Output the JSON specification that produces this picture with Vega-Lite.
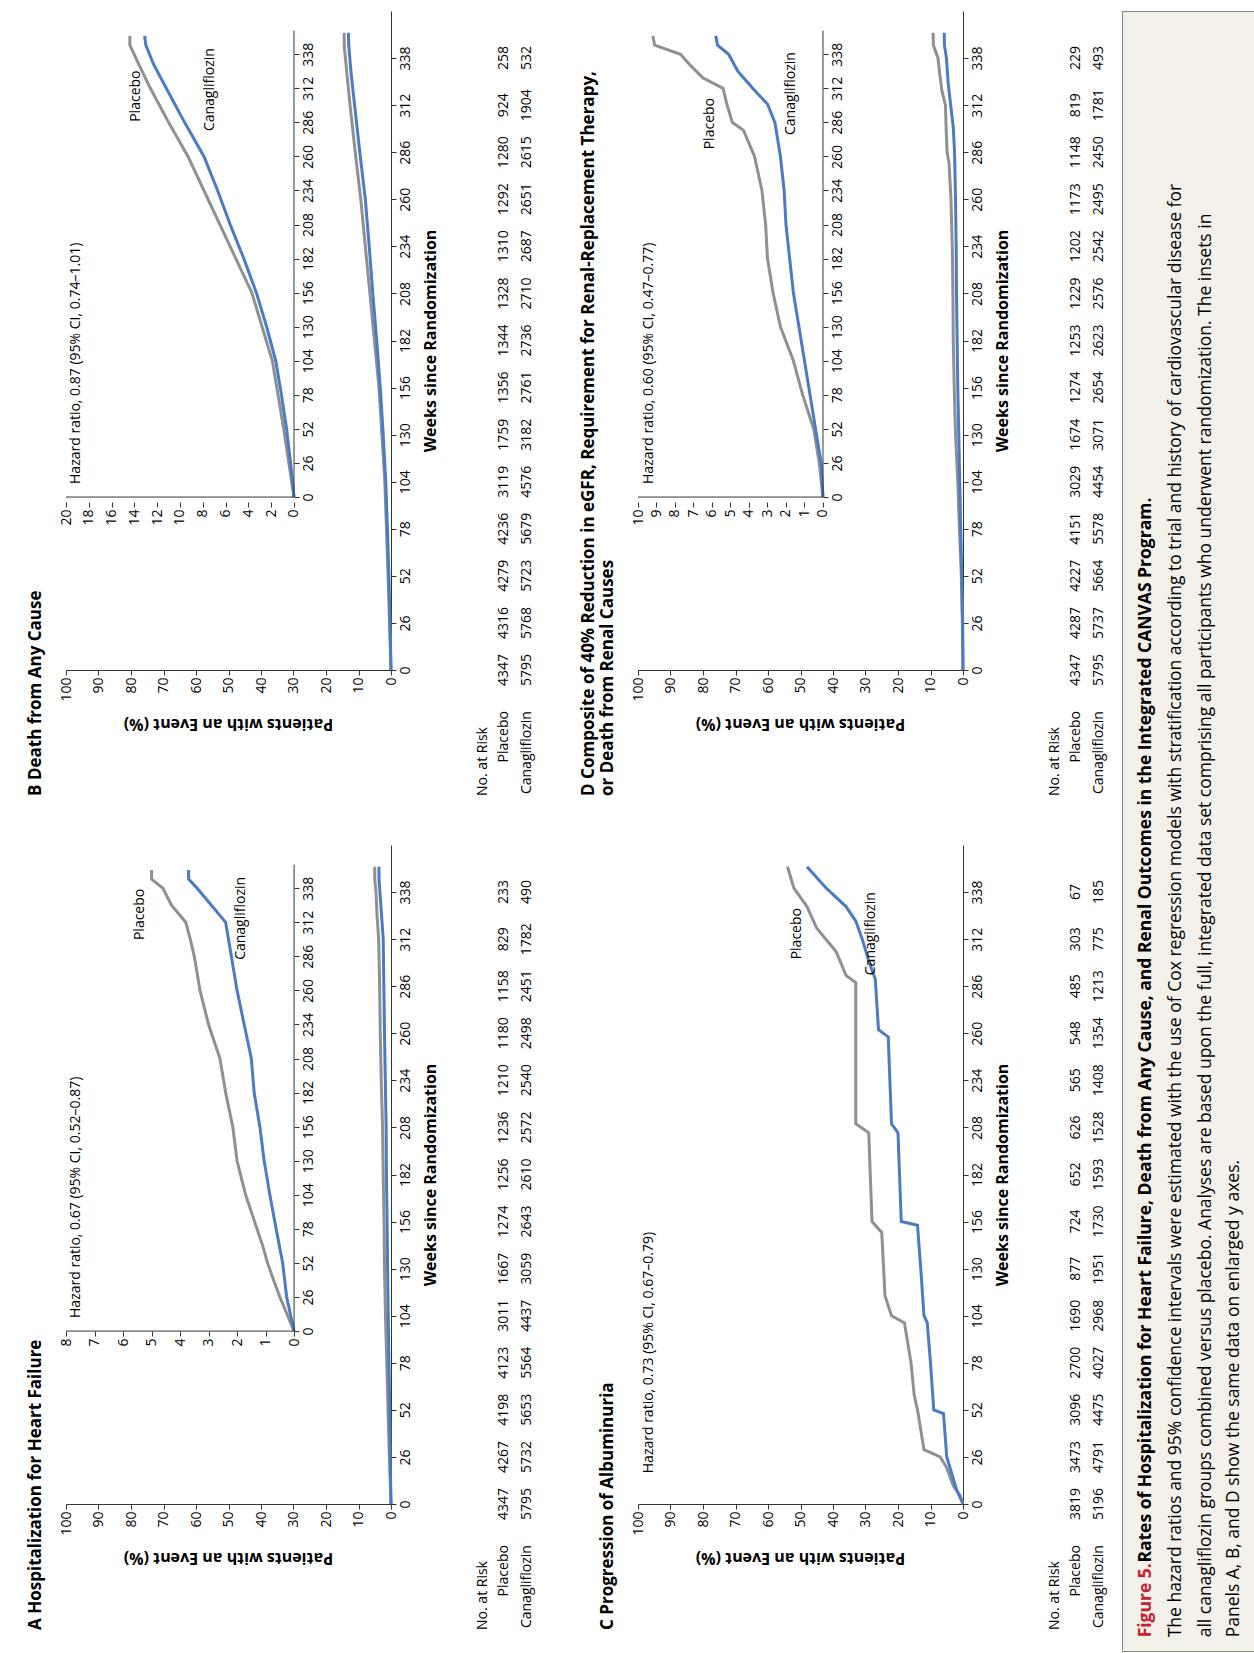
{
  "$schema": "https://vega.github.io/schema/vega-lite/v6.json",
  "padding": {"left": 26, "top": 10, "right": 0, "bottom": 0},
  "config": {
    "font": "Open Sans",
    "view": {"stroke": null},
    "axis": {"labelFontSize": 14, "labelColor": "black", "domainColor": "#333", "tickColor": "#333", "grid": false, "titleColor": "black", "titleFontSize": 16, "titleFontWeight": "bold", "labelFont": "Open Sans", "titleFont": "Open Sans", "labelOverlap": false, "labelFlush": false, "labelBound": false},
    "text": {"font": "Open Sans", "fontSize": 14, "color": "black"},
    "title": {"font": "Open Sans", "fontSize": 17, "fontWeight": "bold", "color": "black"}
  },
  "datasets": {
    "km": [
      {"p":"A","g":"Placebo","w":0,"v":0},{"p":"A","g":"Placebo","w":13,"v":0.25},{"p":"A","g":"Placebo","w":26,"v":0.5},{"p":"A","g":"Placebo","w":39,"v":0.72},{"p":"A","g":"Placebo","w":52,"v":0.93},{"p":"A","g":"Placebo","w":65,"v":1.1},{"p":"A","g":"Placebo","w":78,"v":1.3},{"p":"A","g":"Placebo","w":91,"v":1.5},{"p":"A","g":"Placebo","w":104,"v":1.7},{"p":"A","g":"Placebo","w":117,"v":1.85},{"p":"A","g":"Placebo","w":130,"v":2.0},{"p":"A","g":"Placebo","w":156,"v":2.15},{"p":"A","g":"Placebo","w":182,"v":2.4},{"p":"A","g":"Placebo","w":208,"v":2.6},{"p":"A","g":"Placebo","w":234,"v":3.0},{"p":"A","g":"Placebo","w":260,"v":3.3},{"p":"A","g":"Placebo","w":286,"v":3.5},{"p":"A","g":"Placebo","w":300,"v":3.65},{"p":"A","g":"Placebo","w":312,"v":3.8},{"p":"A","g":"Placebo","w":325,"v":4.3},{"p":"A","g":"Placebo","w":338,"v":4.6},{"p":"A","g":"Placebo","w":345,"v":5.0},{"p":"A","g":"Placebo","w":352,"v":5.0},
      {"p":"A","g":"Canagliflozin","w":0,"v":0},{"p":"A","g":"Canagliflozin","w":26,"v":0.26},{"p":"A","g":"Canagliflozin","w":52,"v":0.4},{"p":"A","g":"Canagliflozin","w":78,"v":0.63},{"p":"A","g":"Canagliflozin","w":104,"v":0.85},{"p":"A","g":"Canagliflozin","w":130,"v":1.05},{"p":"A","g":"Canagliflozin","w":156,"v":1.2},{"p":"A","g":"Canagliflozin","w":182,"v":1.4},{"p":"A","g":"Canagliflozin","w":208,"v":1.5},{"p":"A","g":"Canagliflozin","w":234,"v":1.75},{"p":"A","g":"Canagliflozin","w":260,"v":2.0},{"p":"A","g":"Canagliflozin","w":286,"v":2.2},{"p":"A","g":"Canagliflozin","w":312,"v":2.4},{"p":"A","g":"Canagliflozin","w":325,"v":2.9},{"p":"A","g":"Canagliflozin","w":338,"v":3.4},{"p":"A","g":"Canagliflozin","w":345,"v":3.7},{"p":"A","g":"Canagliflozin","w":352,"v":3.7},
      {"p":"B","g":"Placebo","w":0,"v":0},{"p":"B","g":"Placebo","w":26,"v":0.45},{"p":"B","g":"Placebo","w":52,"v":0.9},{"p":"B","g":"Placebo","w":78,"v":1.4},{"p":"B","g":"Placebo","w":104,"v":1.9},{"p":"B","g":"Placebo","w":130,"v":2.8},{"p":"B","g":"Placebo","w":156,"v":3.7},{"p":"B","g":"Placebo","w":182,"v":5.1},{"p":"B","g":"Placebo","w":208,"v":6.5},{"p":"B","g":"Placebo","w":234,"v":7.9},{"p":"B","g":"Placebo","w":260,"v":9.3},{"p":"B","g":"Placebo","w":286,"v":11.0},{"p":"B","g":"Placebo","w":312,"v":12.6},{"p":"B","g":"Placebo","w":330,"v":13.6},{"p":"B","g":"Placebo","w":345,"v":14.4},{"p":"B","g":"Placebo","w":352,"v":14.4},
      {"p":"B","g":"Canagliflozin","w":0,"v":0},{"p":"B","g":"Canagliflozin","w":26,"v":0.3},{"p":"B","g":"Canagliflozin","w":52,"v":0.65},{"p":"B","g":"Canagliflozin","w":78,"v":1.1},{"p":"B","g":"Canagliflozin","w":104,"v":1.6},{"p":"B","g":"Canagliflozin","w":130,"v":2.4},{"p":"B","g":"Canagliflozin","w":156,"v":3.3},{"p":"B","g":"Canagliflozin","w":182,"v":4.4},{"p":"B","g":"Canagliflozin","w":208,"v":5.6},{"p":"B","g":"Canagliflozin","w":234,"v":6.7},{"p":"B","g":"Canagliflozin","w":260,"v":7.9},{"p":"B","g":"Canagliflozin","w":286,"v":9.6},{"p":"B","g":"Canagliflozin","w":312,"v":11.2},{"p":"B","g":"Canagliflozin","w":330,"v":12.3},{"p":"B","g":"Canagliflozin","w":345,"v":13.0},{"p":"B","g":"Canagliflozin","w":352,"v":13.1},
      {"p":"C","g":"Placebo","w":0,"v":0},{"p":"C","g":"Placebo","w":5,"v":1},{"p":"C","g":"Placebo","w":10,"v":3},{"p":"C","g":"Placebo","w":20,"v":5},{"p":"C","g":"Placebo","w":26,"v":7},{"p":"C","g":"Placebo","w":30,"v":12},{"p":"C","g":"Placebo","w":52,"v":14},{"p":"C","g":"Placebo","w":60,"v":15},{"p":"C","g":"Placebo","w":78,"v":16},{"p":"C","g":"Placebo","w":100,"v":18},{"p":"C","g":"Placebo","w":104,"v":22},{"p":"C","g":"Placebo","w":115,"v":24},{"p":"C","g":"Placebo","w":150,"v":25},{"p":"C","g":"Placebo","w":156,"v":28},{"p":"C","g":"Placebo","w":205,"v":29},{"p":"C","g":"Placebo","w":210,"v":33},{"p":"C","g":"Placebo","w":288,"v":33},{"p":"C","g":"Placebo","w":292,"v":36},{"p":"C","g":"Placebo","w":305,"v":39},{"p":"C","g":"Placebo","w":318,"v":45},{"p":"C","g":"Placebo","w":330,"v":48},{"p":"C","g":"Placebo","w":340,"v":52},{"p":"C","g":"Placebo","w":352,"v":54},
      {"p":"C","g":"Canagliflozin","w":0,"v":0},{"p":"C","g":"Canagliflozin","w":8,"v":2},{"p":"C","g":"Canagliflozin","w":20,"v":4},{"p":"C","g":"Canagliflozin","w":26,"v":5},{"p":"C","g":"Canagliflozin","w":50,"v":6},{"p":"C","g":"Canagliflozin","w":52,"v":9},{"p":"C","g":"Canagliflozin","w":78,"v":10},{"p":"C","g":"Canagliflozin","w":100,"v":11},{"p":"C","g":"Canagliflozin","w":104,"v":12},{"p":"C","g":"Canagliflozin","w":130,"v":13},{"p":"C","g":"Canagliflozin","w":154,"v":14},{"p":"C","g":"Canagliflozin","w":156,"v":19},{"p":"C","g":"Canagliflozin","w":205,"v":20},{"p":"C","g":"Canagliflozin","w":210,"v":22},{"p":"C","g":"Canagliflozin","w":258,"v":23},{"p":"C","g":"Canagliflozin","w":262,"v":26},{"p":"C","g":"Canagliflozin","w":290,"v":27},{"p":"C","g":"Canagliflozin","w":300,"v":29},{"p":"C","g":"Canagliflozin","w":312,"v":31},{"p":"C","g":"Canagliflozin","w":322,"v":33},{"p":"C","g":"Canagliflozin","w":330,"v":36},{"p":"C","g":"Canagliflozin","w":340,"v":42},{"p":"C","g":"Canagliflozin","w":352,"v":48},
      {"p":"D","g":"Placebo","w":0,"v":0},{"p":"D","g":"Placebo","w":26,"v":0.2},{"p":"D","g":"Placebo","w":52,"v":0.5},{"p":"D","g":"Placebo","w":78,"v":1.1},{"p":"D","g":"Placebo","w":104,"v":1.6},{"p":"D","g":"Placebo","w":130,"v":2.3},{"p":"D","g":"Placebo","w":156,"v":2.7},{"p":"D","g":"Placebo","w":182,"v":3.0},{"p":"D","g":"Placebo","w":208,"v":3.1},{"p":"D","g":"Placebo","w":234,"v":3.3},{"p":"D","g":"Placebo","w":260,"v":3.7},{"p":"D","g":"Placebo","w":280,"v":4.3},{"p":"D","g":"Placebo","w":286,"v":4.9},{"p":"D","g":"Placebo","w":300,"v":5.2},{"p":"D","g":"Placebo","w":312,"v":5.4},{"p":"D","g":"Placebo","w":320,"v":6.5},{"p":"D","g":"Placebo","w":330,"v":7.2},{"p":"D","g":"Placebo","w":338,"v":7.7},{"p":"D","g":"Placebo","w":345,"v":9.1},{"p":"D","g":"Placebo","w":352,"v":9.2},
      {"p":"D","g":"Canagliflozin","w":0,"v":0},{"p":"D","g":"Canagliflozin","w":26,"v":0.1},{"p":"D","g":"Canagliflozin","w":52,"v":0.4},{"p":"D","g":"Canagliflozin","w":78,"v":0.7},{"p":"D","g":"Canagliflozin","w":104,"v":1.0},{"p":"D","g":"Canagliflozin","w":130,"v":1.3},{"p":"D","g":"Canagliflozin","w":156,"v":1.6},{"p":"D","g":"Canagliflozin","w":182,"v":1.8},{"p":"D","g":"Canagliflozin","w":208,"v":2.0},{"p":"D","g":"Canagliflozin","w":234,"v":2.1},{"p":"D","g":"Canagliflozin","w":260,"v":2.3},{"p":"D","g":"Canagliflozin","w":286,"v":2.6},{"p":"D","g":"Canagliflozin","w":300,"v":3.0},{"p":"D","g":"Canagliflozin","w":312,"v":3.8},{"p":"D","g":"Canagliflozin","w":325,"v":4.6},{"p":"D","g":"Canagliflozin","w":338,"v":5.1},{"p":"D","g":"Canagliflozin","w":345,"v":5.7},{"p":"D","g":"Canagliflozin","w":352,"v":5.8}
    ],
    "risk": [
      {"p":"A","g":"Placebo","w":0,"n":4347},{"p":"A","g":"Placebo","w":26,"n":4267},{"p":"A","g":"Placebo","w":52,"n":4198},{"p":"A","g":"Placebo","w":78,"n":4123},{"p":"A","g":"Placebo","w":104,"n":3011},{"p":"A","g":"Placebo","w":130,"n":1667},{"p":"A","g":"Placebo","w":156,"n":1274},{"p":"A","g":"Placebo","w":182,"n":1256},{"p":"A","g":"Placebo","w":208,"n":1236},{"p":"A","g":"Placebo","w":234,"n":1210},{"p":"A","g":"Placebo","w":260,"n":1180},{"p":"A","g":"Placebo","w":286,"n":1158},{"p":"A","g":"Placebo","w":312,"n":829},{"p":"A","g":"Placebo","w":338,"n":233},
      {"p":"A","g":"Canagliflozin","w":0,"n":5795},{"p":"A","g":"Canagliflozin","w":26,"n":5732},{"p":"A","g":"Canagliflozin","w":52,"n":5653},{"p":"A","g":"Canagliflozin","w":78,"n":5564},{"p":"A","g":"Canagliflozin","w":104,"n":4437},{"p":"A","g":"Canagliflozin","w":130,"n":3059},{"p":"A","g":"Canagliflozin","w":156,"n":2643},{"p":"A","g":"Canagliflozin","w":182,"n":2610},{"p":"A","g":"Canagliflozin","w":208,"n":2572},{"p":"A","g":"Canagliflozin","w":234,"n":2540},{"p":"A","g":"Canagliflozin","w":260,"n":2498},{"p":"A","g":"Canagliflozin","w":286,"n":2451},{"p":"A","g":"Canagliflozin","w":312,"n":1782},{"p":"A","g":"Canagliflozin","w":338,"n":490},
      {"p":"B","g":"Placebo","w":0,"n":4347},{"p":"B","g":"Placebo","w":26,"n":4316},{"p":"B","g":"Placebo","w":52,"n":4279},{"p":"B","g":"Placebo","w":78,"n":4236},{"p":"B","g":"Placebo","w":104,"n":3119},{"p":"B","g":"Placebo","w":130,"n":1759},{"p":"B","g":"Placebo","w":156,"n":1356},{"p":"B","g":"Placebo","w":182,"n":1344},{"p":"B","g":"Placebo","w":208,"n":1328},{"p":"B","g":"Placebo","w":234,"n":1310},{"p":"B","g":"Placebo","w":260,"n":1292},{"p":"B","g":"Placebo","w":286,"n":1280},{"p":"B","g":"Placebo","w":312,"n":924},{"p":"B","g":"Placebo","w":338,"n":258},
      {"p":"B","g":"Canagliflozin","w":0,"n":5795},{"p":"B","g":"Canagliflozin","w":26,"n":5768},{"p":"B","g":"Canagliflozin","w":52,"n":5723},{"p":"B","g":"Canagliflozin","w":78,"n":5679},{"p":"B","g":"Canagliflozin","w":104,"n":4576},{"p":"B","g":"Canagliflozin","w":130,"n":3182},{"p":"B","g":"Canagliflozin","w":156,"n":2761},{"p":"B","g":"Canagliflozin","w":182,"n":2736},{"p":"B","g":"Canagliflozin","w":208,"n":2710},{"p":"B","g":"Canagliflozin","w":234,"n":2687},{"p":"B","g":"Canagliflozin","w":260,"n":2651},{"p":"B","g":"Canagliflozin","w":286,"n":2615},{"p":"B","g":"Canagliflozin","w":312,"n":1904},{"p":"B","g":"Canagliflozin","w":338,"n":532},
      {"p":"C","g":"Placebo","w":0,"n":3819},{"p":"C","g":"Placebo","w":26,"n":3473},{"p":"C","g":"Placebo","w":52,"n":3096},{"p":"C","g":"Placebo","w":78,"n":2700},{"p":"C","g":"Placebo","w":104,"n":1690},{"p":"C","g":"Placebo","w":130,"n":877},{"p":"C","g":"Placebo","w":156,"n":724},{"p":"C","g":"Placebo","w":182,"n":652},{"p":"C","g":"Placebo","w":208,"n":626},{"p":"C","g":"Placebo","w":234,"n":565},{"p":"C","g":"Placebo","w":260,"n":548},{"p":"C","g":"Placebo","w":286,"n":485},{"p":"C","g":"Placebo","w":312,"n":303},{"p":"C","g":"Placebo","w":338,"n":67},
      {"p":"C","g":"Canagliflozin","w":0,"n":5196},{"p":"C","g":"Canagliflozin","w":26,"n":4791},{"p":"C","g":"Canagliflozin","w":52,"n":4475},{"p":"C","g":"Canagliflozin","w":78,"n":4027},{"p":"C","g":"Canagliflozin","w":104,"n":2968},{"p":"C","g":"Canagliflozin","w":130,"n":1951},{"p":"C","g":"Canagliflozin","w":156,"n":1730},{"p":"C","g":"Canagliflozin","w":182,"n":1593},{"p":"C","g":"Canagliflozin","w":208,"n":1528},{"p":"C","g":"Canagliflozin","w":234,"n":1408},{"p":"C","g":"Canagliflozin","w":260,"n":1354},{"p":"C","g":"Canagliflozin","w":286,"n":1213},{"p":"C","g":"Canagliflozin","w":312,"n":775},{"p":"C","g":"Canagliflozin","w":338,"n":185},
      {"p":"D","g":"Placebo","w":0,"n":4347},{"p":"D","g":"Placebo","w":26,"n":4287},{"p":"D","g":"Placebo","w":52,"n":4227},{"p":"D","g":"Placebo","w":78,"n":4151},{"p":"D","g":"Placebo","w":104,"n":3029},{"p":"D","g":"Placebo","w":130,"n":1674},{"p":"D","g":"Placebo","w":156,"n":1274},{"p":"D","g":"Placebo","w":182,"n":1253},{"p":"D","g":"Placebo","w":208,"n":1229},{"p":"D","g":"Placebo","w":234,"n":1202},{"p":"D","g":"Placebo","w":260,"n":1173},{"p":"D","g":"Placebo","w":286,"n":1148},{"p":"D","g":"Placebo","w":312,"n":819},{"p":"D","g":"Placebo","w":338,"n":229},
      {"p":"D","g":"Canagliflozin","w":0,"n":5795},{"p":"D","g":"Canagliflozin","w":26,"n":5737},{"p":"D","g":"Canagliflozin","w":52,"n":5664},{"p":"D","g":"Canagliflozin","w":78,"n":5578},{"p":"D","g":"Canagliflozin","w":104,"n":4454},{"p":"D","g":"Canagliflozin","w":130,"n":3071},{"p":"D","g":"Canagliflozin","w":156,"n":2654},{"p":"D","g":"Canagliflozin","w":182,"n":2623},{"p":"D","g":"Canagliflozin","w":208,"n":2576},{"p":"D","g":"Canagliflozin","w":234,"n":2542},{"p":"D","g":"Canagliflozin","w":260,"n":2495},{"p":"D","g":"Canagliflozin","w":286,"n":2450},{"p":"D","g":"Canagliflozin","w":312,"n":1781},{"p":"D","g":"Canagliflozin","w":338,"n":493}
    ]
  },
  "hconcat": [
    {
      "vconcat": [
        {
          "width": 498, "height": 659,
          "title": {"text": "B  Death from Any Cause", "orient": "left", "angle": 270, "anchor": "start", "offset": 14},
          "resolve": {"scale": {"x": "independent", "y": "independent"}},
          "layer": [
            {"layer": [
              {"data": {"name": "km"}, "transform": [{"filter": "datum.p === 'B'"}],
               "mark": {"type": "line", "strokeWidth": 3},
               "encoding": {
                 "x": {"field": "v", "type": "quantitative", "scale": {"domain": [0, 100], "range": [325, 0], "nice": false}, "axis": {"values": [0,10,20,30,40,50,60,70,80,90,100], "labelAngle": 270, "labelAlign": "right", "labelBaseline": "middle", "title": "Patients with an Event (%)", "titleAngle": 180, "titleBaseline": "bottom", "titlePadding": 14, "titleX": 162}},
                 "y": {"field": "w", "type": "quantitative", "scale": {"domain": [0, 364], "nice": false}, "axis": {"orient": "right", "offset": -173, "values": [0,26,52,78,104,130,156,182,208,234,260,286,312,338], "labelAngle": 270, "labelAlign": "center", "labelBaseline": "top", "title": "Weeks since Randomization", "titleAngle": 270, "titleBaseline": "top", "titlePadding": 10}},
                 "order": {"field": "w", "type": "quantitative"},
                 "color": {"field": "g", "type": "nominal", "scale": {"domain": ["Placebo", "Canagliflozin"], "range": ["#8f9092", "#4a7cc4"]}, "legend": null}
               }},
              {"data": {"name": "risk"}, "transform": [{"filter": "datum.p === 'B' && datum.g === 'Placebo'"}], "mark": {"type": "text", "angle": 270},
               "encoding": {"y": {"field": "w", "type": "quantitative"}, "x": {"datum": -34.8, "type": "quantitative"}, "text": {"field": "n"}}},
              {"data": {"name": "risk"}, "transform": [{"filter": "datum.p === 'B' && datum.g === 'Canagliflozin'"}], "mark": {"type": "text", "angle": 270},
               "encoding": {"y": {"field": "w", "type": "quantitative"}, "x": {"datum": -41.8, "type": "quantitative"}, "text": {"field": "n"}}},
              {"data": {"values": [{"t": "No. at Risk", "x": -28.3, "wt": "bold", "y": -31.5}, {"t": "Placebo", "x": -34.8, "wt": "normal", "y": -22.7}, {"t": "Canagliflozin", "x": -41.8, "wt": "normal", "y": -22.7}]},
               "mark": {"type": "text", "angle": 270, "align": "right", "baseline": "middle"},
               "encoding": {"x": {"field": "x", "type": "quantitative"}, "y": {"field": "y", "type": "quantitative"}, "text": {"field": "t"}, "fontWeight": {"field": "wt", "type": "nominal", "scale": null}}}
            ]},
            {"layer": [
              {"data": {"name": "km"}, "transform": [{"filter": "datum.p === 'B'"}],
               "mark": {"type": "line", "strokeWidth": 3},
               "encoding": {
                 "x": {"field": "v", "type": "quantitative", "scale": {"domain": [-8.51, 20], "range": [325, 0], "nice": false, "zero": false}, "axis": {"orient": "bottom", "offset": -168, "values": [0,2,4,6,8,10,12,14,16,18,20], "domain": false, "labelAngle": 270, "labelAlign": "right", "labelBaseline": "middle", "title": null}},
                 "y": {"field": "w", "type": "quantitative", "scale": {"domain": [-132, 371], "nice": false, "zero": false}, "axis": {"orient": "right", "offset": -270, "values": [0,26,52,78,104,130,156,182,208,234,260,286,312,338], "domain": false, "labelAngle": 270, "labelAlign": "center", "labelBaseline": "top", "title": null}},
                 "order": {"field": "w", "type": "quantitative"},
                 "color": {"field": "g", "type": "nominal", "legend": null}
               }},
              {"mark": {"type": "rule", "color": "#333"}, "data": {"values": [{}]}, "encoding": {"x": {"datum": 0, "type": "quantitative"}, "y": {"datum": 0, "type": "quantitative"}, "y2": {"datum": 356}}},
              {"mark": {"type": "rule", "color": "#333"}, "data": {"values": [{}]}, "encoding": {"y": {"datum": 0, "type": "quantitative"}, "x": {"datum": 0, "type": "quantitative"}, "x2": {"datum": 20}}},
              {"data": {"values": [{"t": "Hazard ratio, 0.87 (95% CI, 0.74–1.01)", "x": 19.1, "y": 10}]},
               "mark": {"type": "text", "angle": 270, "baseline": "middle", "align": "left"},
               "encoding": {"x": {"field": "x", "type": "quantitative"}, "y": {"field": "y", "type": "quantitative"}, "text": {"field": "t"}}},
              {"data": {"values": [{"t": "Placebo", "x": 13.9, "y": 306}, {"t": "Canagliflozin", "x": 7.4, "y": 311}]},
               "mark": {"type": "text", "angle": 270, "baseline": "middle", "align": "center"},
               "encoding": {"x": {"field": "x", "type": "quantitative"}, "y": {"field": "y", "type": "quantitative"}, "text": {"field": "t"}}}
            ]}
          ]
        },
        {
          "width": 498, "height": 659,
          "title": {"text": "A  Hospitalization for Heart Failure", "orient": "left", "angle": 270, "anchor": "start", "offset": 14},
          "resolve": {"scale": {"x": "independent", "y": "independent"}},
          "layer": [
            {"layer": [
              {"data": {"name": "km"}, "transform": [{"filter": "datum.p === 'A'"}],
               "mark": {"type": "line", "strokeWidth": 3},
               "encoding": {
                 "x": {"field": "v", "type": "quantitative", "scale": {"domain": [0, 100], "range": [325, 0], "nice": false}, "axis": {"values": [0,10,20,30,40,50,60,70,80,90,100], "labelAngle": 270, "labelAlign": "right", "labelBaseline": "middle", "title": "Patients with an Event (%)", "titleAngle": 180, "titleBaseline": "bottom", "titlePadding": 14, "titleX": 162}},
                 "y": {"field": "w", "type": "quantitative", "scale": {"domain": [0, 364], "nice": false}, "axis": {"orient": "right", "offset": -173, "values": [0,26,52,78,104,130,156,182,208,234,260,286,312,338], "labelAngle": 270, "labelAlign": "center", "labelBaseline": "top", "title": "Weeks since Randomization", "titleAngle": 270, "titleBaseline": "top", "titlePadding": 10}},
                 "order": {"field": "w", "type": "quantitative"},
                 "color": {"field": "g", "type": "nominal", "scale": {"domain": ["Placebo", "Canagliflozin"], "range": ["#8f9092", "#4a7cc4"]}, "legend": null}
               }},
              {"data": {"name": "risk"}, "transform": [{"filter": "datum.p === 'A' && datum.g === 'Placebo'"}], "mark": {"type": "text", "angle": 270},
               "encoding": {"y": {"field": "w", "type": "quantitative"}, "x": {"datum": -34.8, "type": "quantitative"}, "text": {"field": "n"}}},
              {"data": {"name": "risk"}, "transform": [{"filter": "datum.p === 'A' && datum.g === 'Canagliflozin'"}], "mark": {"type": "text", "angle": 270},
               "encoding": {"y": {"field": "w", "type": "quantitative"}, "x": {"datum": -41.8, "type": "quantitative"}, "text": {"field": "n"}}},
              {"data": {"values": [{"t": "No. at Risk", "x": -28.3, "wt": "bold", "y": -31.5}, {"t": "Placebo", "x": -34.8, "wt": "normal", "y": -22.7}, {"t": "Canagliflozin", "x": -41.8, "wt": "normal", "y": -22.7}]},
               "mark": {"type": "text", "angle": 270, "align": "right", "baseline": "middle"},
               "encoding": {"x": {"field": "x", "type": "quantitative"}, "y": {"field": "y", "type": "quantitative"}, "text": {"field": "t"}, "fontWeight": {"field": "wt", "type": "nominal", "scale": null}}}
            ]},
            {"layer": [
              {"data": {"name": "km"}, "transform": [{"filter": "datum.p === 'A'"}],
               "mark": {"type": "line", "strokeWidth": 3},
               "encoding": {
                 "x": {"field": "v", "type": "quantitative", "scale": {"domain": [-3.4, 8], "range": [325, 0], "nice": false, "zero": false}, "axis": {"orient": "bottom", "offset": -173, "values": [0,1,2,3,4,5,6,7,8], "domain": false, "labelAngle": 270, "labelAlign": "right", "labelBaseline": "middle", "title": null}},
                 "y": {"field": "w", "type": "quantitative", "scale": {"domain": [-132, 371], "nice": false, "zero": false}, "axis": {"orient": "right", "offset": -270, "values": [0,26,52,78,104,130,156,182,208,234,260,286,312,338], "domain": false, "labelAngle": 270, "labelAlign": "center", "labelBaseline": "top", "title": null}},
                 "order": {"field": "w", "type": "quantitative"},
                 "color": {"field": "g", "type": "nominal", "legend": null}
               }},
              {"mark": {"type": "rule", "color": "#333"}, "data": {"values": [{}]}, "encoding": {"x": {"datum": 0, "type": "quantitative"}, "y": {"datum": 0, "type": "quantitative"}, "y2": {"datum": 356}}},
              {"mark": {"type": "rule", "color": "#333"}, "data": {"values": [{}]}, "encoding": {"y": {"datum": 0, "type": "quantitative"}, "x": {"datum": 0, "type": "quantitative"}, "x2": {"datum": 8}}},
              {"data": {"values": [{"t": "Hazard ratio, 0.67 (95% CI, 0.52–0.87)", "x": 7.65, "y": 10}]},
               "mark": {"type": "text", "angle": 270, "baseline": "middle", "align": "left"},
               "encoding": {"x": {"field": "x", "type": "quantitative"}, "y": {"field": "y", "type": "quantitative"}, "text": {"field": "t"}}},
              {"data": {"values": [{"t": "Placebo", "x": 5.4, "y": 318}, {"t": "Canagliflozin", "x": 1.87, "y": 315}]},
               "mark": {"type": "text", "angle": 270, "baseline": "middle", "align": "center"},
               "encoding": {"x": {"field": "x", "type": "quantitative"}, "y": {"field": "y", "type": "quantitative"}, "text": {"field": "t"}}}
            ]}
          ]
        }
      ],
      "spacing": 175, "bounds": "flush"
    },
    {
      "vconcat": [
        {
          "width": 326, "height": 659,
          "title": {"text": ["D  Composite of 40% Reduction in eGFR, Requirement for Renal-Replacement Therapy,", "     or Death from Renal Causes"], "orient": "left", "angle": 270, "anchor": "start", "offset": 14},
          "resolve": {"scale": {"x": "independent", "y": "independent"}},
          "layer": [
            {"layer": [
              {"data": {"name": "km"}, "transform": [{"filter": "datum.p === 'D'"}],
               "mark": {"type": "line", "strokeWidth": 3},
               "encoding": {
                 "x": {"field": "v", "type": "quantitative", "scale": {"domain": [0, 100], "range": [325, 0], "nice": false}, "axis": {"values": [0,10,20,30,40,50,60,70,80,90,100], "tickCount": 11, "labelAngle": 270, "labelAlign": "right", "labelBaseline": "middle", "title": "Patients with an Event (%)", "titleAngle": 180, "titleBaseline": "bottom", "titlePadding": 14, "titleX": 162}},
                 "y": {"field": "w", "type": "quantitative", "scale": {"domain": [0, 364], "nice": false}, "axis": {"orient": "right", "offset": -1, "values": [0,26,52,78,104,130,156,182,208,234,260,286,312,338], "labelAngle": 270, "labelAlign": "center", "labelBaseline": "top", "title": "Weeks since Randomization", "titleAngle": 270, "titleBaseline": "top", "titlePadding": 10}},
                 "order": {"field": "w", "type": "quantitative"},
                 "color": {"field": "g", "type": "nominal", "scale": {"domain": ["Placebo", "Canagliflozin"], "range": ["#8f9092", "#4a7cc4"]}, "legend": null}
               }},
              {"data": {"name": "risk"}, "transform": [{"filter": "datum.p === 'D' && datum.g === 'Placebo'"}], "mark": {"type": "text", "angle": 270},
               "encoding": {"y": {"field": "w", "type": "quantitative"}, "x": {"datum": -34.8, "type": "quantitative"}, "text": {"field": "n"}}},
              {"data": {"name": "risk"}, "transform": [{"filter": "datum.p === 'D' && datum.g === 'Canagliflozin'"}], "mark": {"type": "text", "angle": 270},
               "encoding": {"y": {"field": "w", "type": "quantitative"}, "x": {"datum": -41.8, "type": "quantitative"}, "text": {"field": "n"}}},
              {"data": {"values": [{"t": "No. at Risk", "x": -28.3, "wt": "bold", "y": -31.5}, {"t": "Placebo", "x": -34.8, "wt": "normal", "y": -22.7}, {"t": "Canagliflozin", "x": -41.8, "wt": "normal", "y": -22.7}]},
               "mark": {"type": "text", "angle": 270, "align": "right", "baseline": "middle"},
               "encoding": {"x": {"field": "x", "type": "quantitative"}, "y": {"field": "y", "type": "quantitative"}, "text": {"field": "t"}, "fontWeight": {"field": "wt", "type": "nominal", "scale": null}}}
            ]},
            {"layer": [
              {"data": {"name": "km"}, "transform": [{"filter": "datum.p === 'D'"}],
               "mark": {"type": "line", "strokeWidth": 3},
               "encoding": {
                 "x": {"field": "v", "type": "quantitative", "scale": {"domain": [-7.57, 10], "range": [325, 0], "nice": false, "zero": false}, "axis": {"orient": "bottom", "offset": -168, "values": [0,1,2,3,4,5,6,7,8,9,10], "tickCount": 11, "domain": false, "labelAngle": 270, "labelAlign": "right", "labelBaseline": "middle", "title": null}},
                 "y": {"field": "w", "type": "quantitative", "scale": {"domain": [-132, 371], "nice": false, "zero": false}, "axis": {"orient": "right", "offset": -141, "values": [0,26,52,78,104,130,156,182,208,234,260,286,312,338], "domain": false, "labelAngle": 270, "labelAlign": "center", "labelBaseline": "top", "title": null}},
                 "order": {"field": "w", "type": "quantitative"},
                 "color": {"field": "g", "type": "nominal", "legend": null}
               }},
              {"mark": {"type": "rule", "color": "#333"}, "data": {"values": [{}]}, "encoding": {"x": {"datum": 0, "type": "quantitative"}, "y": {"datum": 0, "type": "quantitative"}, "y2": {"datum": 356}}},
              {"mark": {"type": "rule", "color": "#333"}, "data": {"values": [{}]}, "encoding": {"y": {"datum": 0, "type": "quantitative"}, "x": {"datum": 0, "type": "quantitative"}, "x2": {"datum": 10}}},
              {"data": {"values": [{"t": "Hazard ratio, 0.60 (95% CI, 0.47–0.77)", "x": 9.43, "y": 10}]},
               "mark": {"type": "text", "angle": 270, "baseline": "middle", "align": "left"},
               "encoding": {"x": {"field": "x", "type": "quantitative"}, "y": {"field": "y", "type": "quantitative"}, "text": {"field": "t"}}},
              {"data": {"values": [{"t": "Placebo", "x": 6.1, "y": 285}, {"t": "Canagliflozin", "x": 1.71, "y": 308}]},
               "mark": {"type": "text", "angle": 270, "baseline": "middle", "align": "center"},
               "encoding": {"x": {"field": "x", "type": "quantitative"}, "y": {"field": "y", "type": "quantitative"}, "text": {"field": "t"}}}
            ]}
          ]
        },
        {
          "width": 326, "height": 659,
          "title": {"text": "C  Progression of Albuminuria", "orient": "left", "angle": 270, "anchor": "start", "offset": 14},
          "layer": [
            {"data": {"name": "km"}, "transform": [{"filter": "datum.p === 'C'"}],
             "mark": {"type": "line", "strokeWidth": 3},
             "encoding": {
               "x": {"field": "v", "type": "quantitative", "scale": {"domain": [0, 100], "range": [325, 0], "nice": false}, "axis": {"values": [0,10,20,30,40,50,60,70,80,90,100], "tickCount": 11, "labelAngle": 270, "labelAlign": "right", "labelBaseline": "middle", "title": "Patients with an Event (%)", "titleAngle": 180, "titleBaseline": "bottom", "titlePadding": 14, "titleX": 162}},
               "y": {"field": "w", "type": "quantitative", "scale": {"domain": [0, 364], "nice": false}, "axis": {"orient": "right", "offset": -1, "values": [0,26,52,78,104,130,156,182,208,234,260,286,312,338], "labelAngle": 270, "labelAlign": "center", "labelBaseline": "top", "title": "Weeks since Randomization", "titleAngle": 270, "titleBaseline": "top", "titlePadding": 10}},
               "order": {"field": "w", "type": "quantitative"},
               "color": {"field": "g", "type": "nominal", "scale": {"domain": ["Placebo", "Canagliflozin"], "range": ["#8f9092", "#4a7cc4"]}, "legend": null}
             }},
            {"data": {"name": "risk"}, "transform": [{"filter": "datum.p === 'C' && datum.g === 'Placebo'"}], "mark": {"type": "text", "angle": 270},
             "encoding": {"y": {"field": "w", "type": "quantitative"}, "x": {"datum": -34.8, "type": "quantitative"}, "text": {"field": "n"}}},
            {"data": {"name": "risk"}, "transform": [{"filter": "datum.p === 'C' && datum.g === 'Canagliflozin'"}], "mark": {"type": "text", "angle": 270},
             "encoding": {"y": {"field": "w", "type": "quantitative"}, "x": {"datum": -41.8, "type": "quantitative"}, "text": {"field": "n"}}},
            {"data": {"values": [{"t": "No. at Risk", "x": -28.3, "wt": "bold", "y": -31.5}, {"t": "Placebo", "x": -34.8, "wt": "normal", "y": -22.7}, {"t": "Canagliflozin", "x": -41.8, "wt": "normal", "y": -22.7}]},
             "mark": {"type": "text", "angle": 270, "align": "right", "baseline": "middle"},
             "encoding": {"x": {"field": "x", "type": "quantitative"}, "y": {"field": "y", "type": "quantitative"}, "text": {"field": "t"}, "fontWeight": {"field": "wt", "type": "nominal", "scale": null}}},
            {"data": {"values": [{"t": "Hazard ratio, 0.73 (95% CI, 0.67–0.79)", "x": 96.6, "y": 17}]},
             "mark": {"type": "text", "angle": 270, "baseline": "middle", "align": "left"},
             "encoding": {"x": {"field": "x", "type": "quantitative"}, "y": {"field": "y", "type": "quantitative"}, "text": {"field": "t"}}},
            {"data": {"values": [{"t": "Placebo", "x": 51, "y": 315}, {"t": "Canagliflozin", "x": 28.3, "y": 315}]},
             "mark": {"type": "text", "angle": 270, "baseline": "middle", "align": "center"},
             "encoding": {"x": {"field": "x", "type": "quantitative"}, "y": {"field": "y", "type": "quantitative"}, "text": {"field": "t"}}}
          ]
        }
      ],
      "spacing": 175, "bounds": "flush"
    },
    {
      "width": 136, "height": 1640,
      "view": {"fill": "#f4f1ea", "stroke": "#888"},
      "data": {"values": [
        {"t": "Figure 5.", "x": 25, "y": 15, "c": "#c8202f"},
        {"t": "Rates of Hospitalization for Heart Failure, Death from Any Cause, and Renal Outcomes in the Integrated CANVAS Program.", "x": 25, "y": 97, "c": "black"}
      ]},
      "layer": [
        {"mark": {"type": "text", "angle": 270, "align": "left", "baseline": "middle", "fontSize": 17.5, "fontWeight": "bold"},
         "encoding": {"x": {"field": "x", "type": "quantitative", "scale": {"domain": [0, 136]}, "axis": null}, "y": {"field": "y", "type": "quantitative", "scale": {"domain": [0, 1640]}, "axis": null}, "text": {"field": "t"}, "color": {"field": "c", "type": "nominal", "scale": null}}},
        {"data": {"values": [
          {"t": "The hazard ratios and 95% confidence intervals were estimated with the use of Cox regression models with stratification according to trial and history of cardiovascular disease for", "x": 56, "y": 15},
          {"t": "all canagliflozin groups combined versus placebo. Analyses are based upon the full, integrated data set comprising all participants who underwent randomization. The insets in", "x": 86, "y": 15},
          {"t": "Panels A, B, and D show the same data on enlarged y axes.", "x": 115, "y": 15}
        ]},
         "mark": {"type": "text", "angle": 270, "align": "left", "baseline": "middle", "fontSize": 17.5},
         "encoding": {"x": {"field": "x", "type": "quantitative"}, "y": {"field": "y", "type": "quantitative"}, "text": {"field": "t"}}}
      ]
    }
  ],
  "spacing": 15, "bounds": "full"
}
